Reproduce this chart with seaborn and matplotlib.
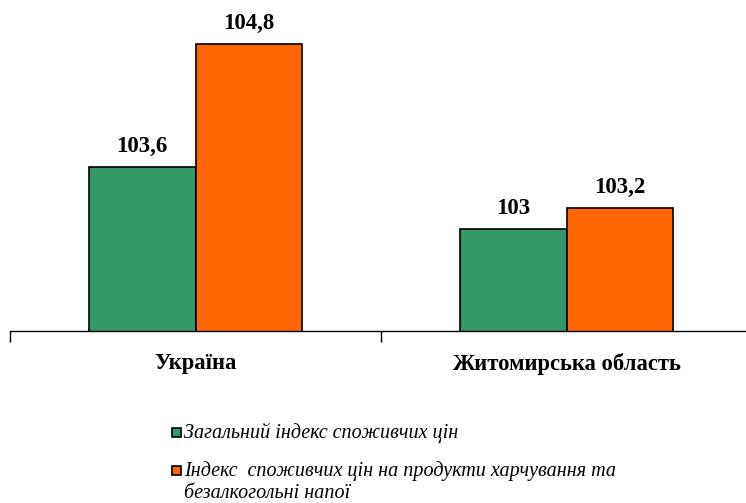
import pandas as pd
import matplotlib.pyplot as plt
import matplotlib.patches as mpatches
import seaborn as sns

# data
regions = ['Україна', 'Житомирська область']
series = ['Загальний індекс споживчих цін',
          'Індекс  споживчих цін на продукти харчування та\nбезалкогольні напої']
cpi_total = [103.6, 103.0]
cpi_food = [104.8, 103.2]
colors = ['#339966', '#FF6600']

df = pd.DataFrame({
    'region': regions * 2,
    'series': [series[0]] * 2 + [series[1]] * 2,
    'value': cpi_total + cpi_food,
})

sns.set_style('white')
plt.rcParams['font.family'] = ['Liberation Serif', 'DejaVu Serif']
plt.rcParams['text.color'] = 'black'
plt.rcParams['xtick.color'] = 'black'
plt.rcParams['xtick.labelcolor'] = 'black'

fig = plt.figure(figsize=(7.46, 5.03), dpi=100)
ax = fig.add_axes([10 / 746, 1 - 331 / 503, 742 / 746, 307.5 / 503])

sns.barplot(data=df, x='region', y='value', hue='series', palette=colors,
            width=0.575, edgecolor='black', linewidth=1.2, saturation=1,
            legend=False, ax=ax)

ax.set_ylim(102, 105)
ax.set_xlim(-0.5, 1.5)
for c in ax.containers:
    labels = [f'{v:g}'.replace('.', ',') for v in c.datavalues]
    ax.bar_label(c, labels=labels, padding=7, fontsize=16.5, fontweight='bold',
                 color='black')

# only the baseline with boundary ticks
for s in ['left', 'right', 'top']:
    ax.spines[s].set_visible(False)
ax.spines['bottom'].set_color('black')
ax.spines['bottom'].set_linewidth(1)
ax.set_yticks([])
ax.set_xticks([0, 1])
ax.set_xticklabels(regions, fontsize=16.3, fontweight='bold')
ax.set_xticks([-0.5, 0.5, 1.5], minor=True)
ax.tick_params(axis='x', which='minor', bottom=True, length=8, width=1,
               color='black', direction='out')
ax.tick_params(axis='x', which='major', bottom=True, length=0, pad=16)
ax.set_xlabel('')
ax.set_ylabel('')

# legend drawn by hand so the marker sits on the first line of each label
leg_rows = [432, 470]
for i, y in enumerate(leg_rows):
    fig.add_artist(mpatches.Rectangle((172 / 746, 1 - (y + 4.5) / 503), 9 / 746, 9 / 503,
                                      transform=fig.transFigure, facecolor=colors[i],
                                      edgecolor='black', linewidth=1.2))
    fig.text(184 / 746, 1 - (y - 9) / 503, series[i], ha='left', va='top',
             fontsize=14.5, fontstyle='italic', linespacing=1.2)

fig.savefig('out.png', dpi=100)
